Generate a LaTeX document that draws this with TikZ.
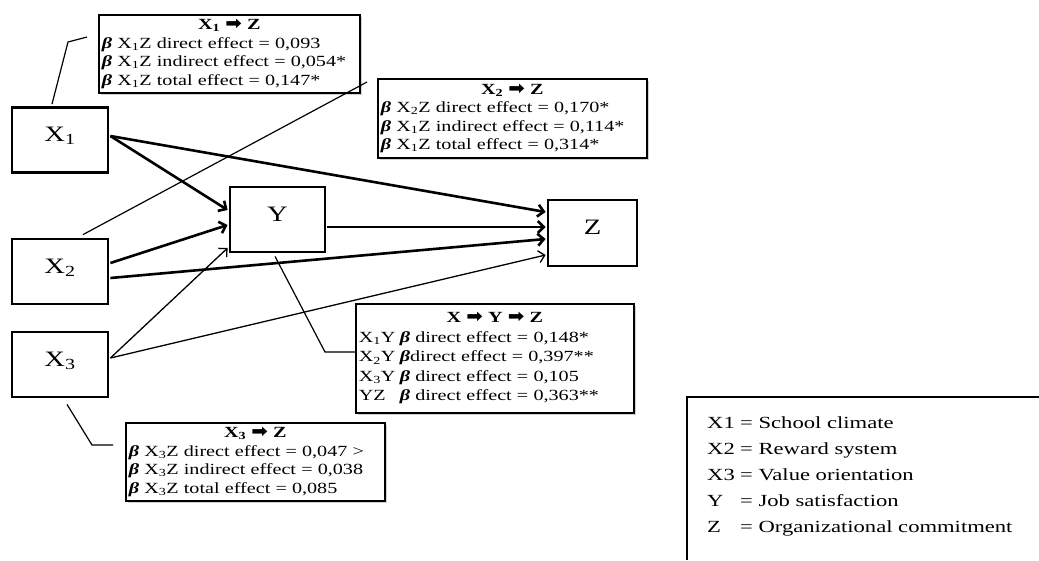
\documentclass[tikz,border=0pt]{standalone}
\usepackage{fontspec}
\setmainfont[FakeStretch=1.3]{Liberation Serif}
\newfontfamily\legfont[FakeStretch=1.33]{Liberation Serif}
\newfontfamily\arrfont[FakeStretch=1.1]{DejaVu Sans}
\usetikzlibrary{arrows.meta,calc,shadows}
\newcommand{\harr}{{\arrfont\bfseries\fontsize{18}{18}\selectfont ➡}}
\newcommand{\bet}{\textbf{\textit{β}}}
\newcommand{\lab}[1]{\makebox[41pt][l]{#1}}
\newcommand{\leg}[1]{\makebox[33pt][l]{#1}}
\begin{document}
\begin{tikzpicture}[x=1pt,y=-1pt,line join=miter,
  var/.style={draw,line width=2.8pt,minimum width=96pt,minimum height=65pt,inner sep=0pt,
    font=\fontsize{22}{25}\selectfont,text height=15pt,text depth=12pt},
  thickarr/.style={line width=2.6pt,-{Straight Barb[length=6pt,width=12pt]}},
  thinarr/.style={line width=1.3pt,-{Straight Barb[length=6pt,width=12pt]}},
  leader/.style={line width=1.2pt},
  annot/.style={draw,line width=1.6pt,fill=white,anchor=north west,inner xsep=3pt,inner ysep=2pt,
    align=left,drop shadow={shadow xshift=2.5pt,shadow yshift=-2.5pt,fill=black!30,opacity=0.6},
    font=\fontsize{15.5}{18.5}\selectfont}]
\useasboundingbox (0,0) rectangle (1039,560);

% main variables
\node[var] (X1) at (60,140) {X\textsubscript{1}};
\node[var] (X2) at (60,271.5) {X\textsubscript{2}};
\node[var] (X3) at (60,364.5) {X\textsubscript{3}};
\node[var,minimum width=95pt] (Y) at (277.5,219.5) {Y};
\node[var,minimum width=89pt,minimum height=66pt] (Z) at (592.5,233) {Z};

% paths
\draw[thickarr] ($(X1.east)+(1,-4)$) -- ($(Y.west)+(-1,-9.5)$);
\draw[thickarr] ($(X1.east)+(1,-4)$) -- ($(Z.west)+(-1,-21)$);
\draw[thickarr] ($(X2.east)+(1,-8.5)$) -- ($(Y.west)+(-1,5.5)$);
\draw[thickarr] ($(X2.east)+(1,6.5)$) -- ($(Z.west)+(-1,6)$);
\draw[thickarr] ($(Y.east)+(1,7.5)$) -- ($(Z.west)+(-1,-6)$);
\draw[thinarr] ($(X3.east)+(1,-6.5)$) -- ($(Y.west)+(-1,28.5)$);
\draw[thinarr] ($(X3.east)+(1,-6.5)$) -- ($(Z.west)+(-1,22)$);

% annotation boxes
\node[annot,text width=255pt,minimum height=78pt] (B1) at (98,14) {%
\hfill\textbf{X\textsubscript{1} \harr{} Z}\hfill\null\\
\bet{} X\textsubscript{1}Z direct effect = 0,093\\
\bet{} X\textsubscript{1}Z indirect effect = 0,054*\\
\bet{} X\textsubscript{1}Z total effect = 0,147*};

\node[annot,text width=263pt,minimum height=79pt] (B2) at (377,78) {%
\hfill\textbf{X\textsubscript{2} \harr{} Z}\hfill\null\\
\bet{} X\textsubscript{2}Z direct effect = 0,170*\\
\bet{} X\textsubscript{1}Z indirect effect = 0,114*\\
\bet{} X\textsubscript{1}Z total effect = 0,314*};

\node[annot,text width=272pt,minimum height=109pt,font=\fontsize{15.5}{19.5}\selectfont] (B3) at (355,303) {%
\hfill\textbf{X \harr{} Y \harr{} Z}\hfill\null\\
\lab{X\textsubscript{1}Y}\bet{} direct effect = 0,148*\\
\lab{X\textsubscript{2}Y}\bet{}direct effect = 0,397**\\
\lab{X\textsubscript{3}Y}\bet{} direct effect = 0,105\\
\lab{YZ}\bet{} direct effect = 0,363**};

\node[annot,text width=253pt,minimum height=78pt] (B4) at (125,422) {%
\hfill\textbf{X\textsubscript{3} \harr{} Z}\hfill\null\\
\bet{} X\textsubscript{3}Z direct effect = 0,047 >\\
\bet{} X\textsubscript{3}Z indirect effect = 0,038\\
\bet{} X\textsubscript{3}Z total effect = 0,085};

% leader lines
\coordinate (l1a) at (68,42);
\coordinate (l1b) at (87,37);
\draw[leader] ($(X1.north)+(-8,-2)$) -- (l1a) -- (l1b);
\coordinate (l2) at (367,82);
\draw[leader] ($(X2.north)+(23,-3)$) -- (l2);
\coordinate (l3a) at (325,352);
\draw[leader] ($(Y.south)+(-2.5,3)$) -- (l3a) -- (B3.west |- l3a);
\coordinate (l4a) at (92,445);
\coordinate (l4b) at (113,445);
\draw[leader] ($(X3.south)+(7,6)$) -- (l4a) -- (l4b);

% legend
\draw[line width=2pt] (1039,397) -- (687,397) -- (687,560);
\node[anchor=north west,align=left,inner sep=0pt,font=\legfont\fontsize{17}{26}\selectfont] (legend) at (707,416) {%
\leg{X1}= School climate\\
\leg{X2}= Reward system\\
\leg{X3}= Value orientation\\
\leg{Y}= Job satisfaction\\
\leg{Z}= Organizational commitment};
\end{tikzpicture}
\end{document}
